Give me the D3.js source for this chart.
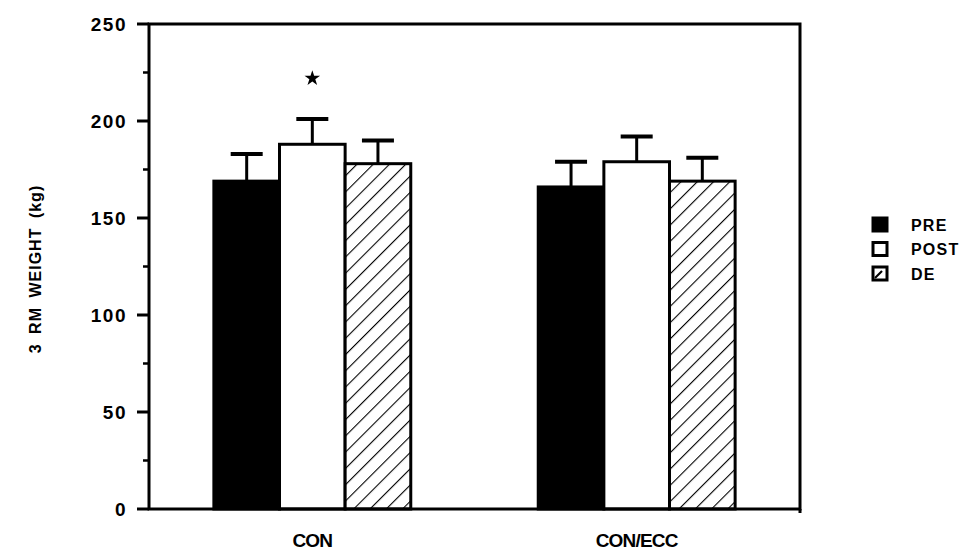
<!DOCTYPE html>
<html>
<head>
<meta charset="utf-8">
<script src="https://cdn.jsdelivr.net/npm/d3@7"></script>
<style>
  body { margin: 0; background: #fff; }
  svg { display: block; }
  text { font-family: "Liberation Sans", Arial, sans-serif; font-weight: bold; fill: #000; }
</style>
</head>
<body>
<script>
/* ------------------------------- Data ------------------------------- */
const groups = ["CON", "CON/ECC"];
const series = ["PRE", "POST", "DE"];
const means = [[169, 188, 178], [166, 179, 169]];
const errTop = [[183, 201, 190], [179, 192, 181]];
const yTicks = [0, 50, 100, 150, 200, 250];
const starGroup = "CON", starSeries = "POST", starValue = 222;

/* ------------------------------ Layout ------------------------------ */
const width = 975, height = 551;
const plotLeft = 149, plotRight = 800, plotTop = 24, plotBottom = 509;

const svg = d3.select("body").append("svg").attr("width", width).attr("height", height);

// diagonal hatch for the DE bars
const pat = svg.append("defs").append("pattern")
    .attr("id", "hatch").attr("patternUnits", "userSpaceOnUse")
    .attr("width", 11.5).attr("height", 11.5)
    .attr("patternTransform", "rotate(45)");
pat.append("rect").attr("width", 11.5).attr("height", 11.5).attr("fill", "#fff");
pat.append("line").attr("x1", 0).attr("y1", 0).attr("x2", 0).attr("y2", 11.5)
    .attr("stroke", "#000").attr("stroke-width", 2.2);

const fills = { PRE: "#000", POST: "#fff", DE: "url(#hatch)" };

const y = d3.scaleLinear().domain([0, 250]).range([plotBottom, plotTop]);
const x0 = d3.scaleBand().domain(groups).range([plotLeft, plotRight]).paddingInner(0.393).paddingOuter(0.2);
const x1 = d3.scaleBand().domain(series).range([0, x0.bandwidth()]);
const cx = d => x0(d.g) + x1(d.s) + x1.bandwidth() / 2;

/* ------------------------------ Bars ------------------------------ */
const rows = [];
groups.forEach((g, gi) => series.forEach((s, si) =>
    rows.push({ g, s, v: means[gi][si], e: errTop[gi][si] })));

// error bars (drawn first, bar covers the stem)
const err = svg.append("g").attr("stroke", "#000");
err.selectAll("line.v").data(rows).enter().append("line")
    .attr("x1", cx).attr("x2", cx)
    .attr("y1", d => y(d.v)).attr("y2", d => y(d.e))
    .attr("stroke-width", 3);
err.selectAll("line.c").data(rows).enter().append("line")
    .attr("x1", d => cx(d) - 16).attr("x2", d => cx(d) + 16)
    .attr("y1", d => y(d.e)).attr("y2", d => y(d.e))
    .attr("stroke-width", 4);

svg.append("g").selectAll("rect").data(rows).enter().append("rect")
    .attr("x", d => x0(d.g) + x1(d.s))
    .attr("y", d => y(d.v))
    .attr("width", x1.bandwidth())
    .attr("height", d => y(0) - y(d.v))
    .attr("fill", d => fills[d.s])
    .attr("stroke", "#000").attr("stroke-width", 3);

// significance star
svg.append("path")
    .attr("d", d3.symbol(d3.symbolStar, 75)())
    .attr("transform", `translate(${cx({ g: starGroup, s: starSeries })},${y(starValue)})`)
    .attr("fill", "#000");

/* ------------------------------ Frame & axes ------------------------------ */
svg.append("rect").attr("x", plotLeft).attr("y", plotTop)
    .attr("width", plotRight - plotLeft).attr("height", plotBottom - plotTop)
    .attr("fill", "none").attr("stroke", "#000").attr("stroke-width", 3);

const yAxis = svg.append("g");
yAxis.selectAll("line.major").data(yTicks).enter().append("line")
    .attr("x1", plotLeft - 12).attr("x2", plotLeft)
    .attr("y1", d => y(d)).attr("y2", d => y(d))
    .attr("stroke", "#000").attr("stroke-width", 3);
yAxis.selectAll("line.minor").data(d3.range(25, 250, 50)).enter().append("line")
    .attr("x1", plotLeft - 6).attr("x2", plotLeft)
    .attr("y1", d => y(d)).attr("y2", d => y(d))
    .attr("stroke", "#000").attr("stroke-width", 2.5);
yAxis.selectAll("text").data(yTicks).enter().append("text")
    .attr("x", plotLeft - 22).attr("y", d => y(d) + 7)
    .attr("text-anchor", "end").attr("font-size", 19)
    .attr("letter-spacing", 1.5)
    .text(d => d);

svg.append("line").attr("x1", plotRight).attr("x2", plotRight)
    .attr("y1", plotBottom).attr("y2", plotBottom + 4)
    .attr("stroke", "#000").attr("stroke-width", 3);

svg.append("g").selectAll("text").data(groups).enter().append("text")
    .attr("x", d => x0(d) + x0.bandwidth() / 2)
    .attr("y", 547)
    .attr("text-anchor", "middle").attr("font-size", 19)
    .attr("letter-spacing", -0.8)
    .text(d => d);

svg.append("text")
    .attr("transform", "translate(41,269) rotate(-90)")
    .attr("text-anchor", "middle").attr("font-size", 16)
    .attr("letter-spacing", 1).attr("word-spacing", 4)
    .text("3 RM WEIGHT (kg)");

/* ------------------------------ Legend ------------------------------ */
const legend = svg.append("g").selectAll("g").data(series).enter().append("g")
    .attr("transform", (d, i) => `translate(873,${218 + i * 24.5})`);
legend.append("rect").attr("width", 14).attr("height", 13)
    .attr("fill", d => d === "PRE" ? "#000" : "#fff")
    .attr("stroke", "#000").attr("stroke-width", 3);
legend.filter(d => d === "DE").append("line")
    .attr("x1", 2).attr("y1", 11).attr("x2", 9).attr("y2", 4)
    .attr("stroke", "#000").attr("stroke-width", 2.2);
legend.append("text").attr("x", 38).attr("y", 12.5).attr("font-size", 16)
    .attr("letter-spacing", 1.2)
    .text(d => d);
</script>
</body>
</html>
